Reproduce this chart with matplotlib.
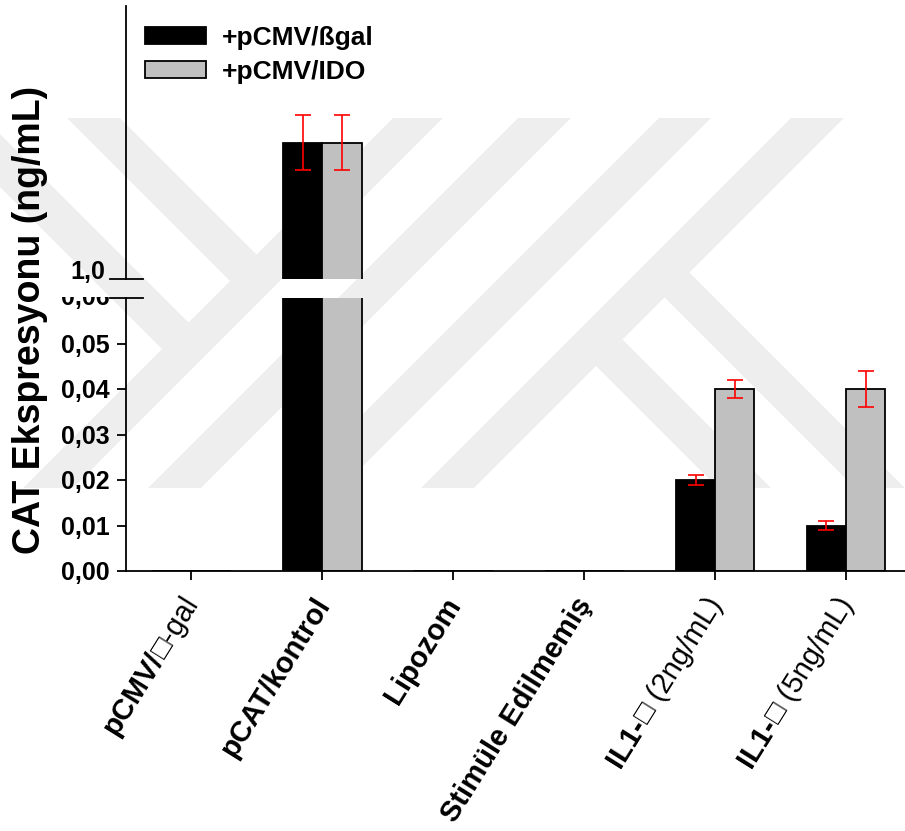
import numpy as np
import matplotlib
matplotlib.use("Agg")
import matplotlib.pyplot as plt
from matplotlib.patches import Polygon
from matplotlib.font_manager import FontProperties
from matplotlib.transforms import Bbox, TransformedBbox, blended_transform_factory

plt.rcParams['font.family'] = ['Liberation Sans', 'DejaVu Sans']

# groups: bold part of the name + plain part
label_bold = ["pCMV/", "pCAT/kontrol", "Lipozom", "Stimüle Edilmemiş", "IL1-", "IL1-"]
label_rest = ["□-gal", "", "", "", "□ (2ng/mL)", "□ (5ng/mL)"]

series_names = ["+pCMV/ßgal", "+pCMV/IDO"]
bgal = [0, 1.5, 0, 0, 0.020, 0.010]
bgal_err = [0, 0.1, 0, 0, 0.001, 0.001]
ido = [0, 1.5, 0, 0, 0.040, 0.040]
ido_err = [0, 0.1, 0, 0, 0.002, 0.004]

low_ticks = [0.00, 0.01, 0.02, 0.03, 0.04, 0.05]

W, H = 905, 831
fig = plt.figure(figsize=(W / 100, H / 100), dpi=100)


def px_rect(x0, y0, x1, y1):
    # pixel box (origin top-left) -> add_axes rect
    return [x0 / W, 1 - y1 / H, (x1 - x0) / W, (y1 - y0) / H]


# faint logo in the background
bg = fig.add_axes([0, 0, 1, 1], zorder=-1)
bg.set_xlim(0, W)
bg.set_ylim(H, 0)
bg.axis('off')
top, bot = 118, 488


def slash(a, b):
    return [(a - top, top), (b - top, top), (b - bot, bot), (a - bot, bot)]


def arm_up(c, d, s):
    return [(c + top, top), (d + top, top), ((s + d) / 2, (s - d) / 2), ((s + c) / 2, (s - c) / 2)]


def arm_down(c, d, s):
    return [((s + d) / 2, (s - d) / 2), (d + bot, bot), (c + bot, bot), ((s + c) / 2, (s - c) / 2)]


shapes = [slash(511, 561), slash(636, 689), slash(777, 829), slash(909, 962),
          arm_up(-51, 2, 511), arm_up(-187, -134, 511),
          arm_down(367, 417, 962), arm_down(230, 283, 962)]
for pts in shapes:
    bg.add_patch(Polygon(pts, closed=True, facecolor='#eeeeee', edgecolor='none'))

ax_lo = fig.add_axes(px_rect(126, 298, 905, 571))
ax_hi = fig.add_axes(px_rect(126, 6, 905, 279))

x = np.arange(len(label_bold))
w = 0.3
lw = 1.3
handles = []
for ax in (ax_lo, ax_hi):
    ax.set_facecolor('none')
    h1 = ax.bar(x - w / 2, bgal, w, color='black', edgecolor='black', linewidth=lw)
    h2 = ax.bar(x + w / 2, ido, w, color='#c0c0c0', edgecolor='black', linewidth=lw)
    handles = [h1, h2]
    for xs, vals, errs in ((x - w / 2, bgal, bgal_err), (x + w / 2, ido, ido_err)):
        vals = np.array(vals)
        errs = np.array(errs)
        m = vals > 0
        ax.errorbar(xs[m], vals[m], yerr=errs[m], fmt='none', ecolor='red',
                    elinewidth=1.2, capsize=6, capthick=1.2, zorder=3)
    ax.set_xlim(-0.5, 5.45)
    for s in ('top', 'right'):
        ax.spines[s].set_visible(False)
    ax.spines['left'].set_linewidth(lw)

ax_lo.set_ylim(0, 0.06)
ax_hi.set_ylim(1.0, 2.0)
ax_hi.spines['bottom'].set_visible(False)
ax_hi.set_xticks([])
ax_hi.set_yticks([])
ax_lo.spines['bottom'].set_linewidth(lw)

ax_lo.set_yticks(low_ticks, labels=[f"{v:.2f}".replace('.', ',') for v in low_ticks],
                 fontsize=18, fontweight='bold')
ax_lo.tick_params(axis='y', direction='out', length=6.5, width=lw, pad=5)
ax_lo.set_xticks(x, labels=[])
ax_lo.tick_params(axis='x', direction='out', length=6.5, width=lw)

# break marks across the y axis
for ax, yv in ((ax_lo, 0.06), (ax_hi, 1.0)):
    tr = blended_transform_factory(fig.transFigure, ax.transData)
    ax.plot([110 / W, 143 / W], [yv, yv], color='black', lw=lw, transform=tr, clip_on=False)

tr_hi = blended_transform_factory(fig.transFigure, ax_hi.transData)
ax_hi.text(105 / W, 1.0, "1,0", transform=tr_hi, ha='right', va='baseline',
           fontsize=18, fontweight='bold')
tr_lo = blended_transform_factory(fig.transFigure, ax_lo.transData)
t06 = ax_lo.text(110 / W, 0.06, "0,06", transform=tr_lo, ha='right', va='center',
                 fontsize=18, fontweight='bold')
t06.set_clip_box(TransformedBbox(Bbox.from_extents(0, 0, 1, 1 - 297 / H), fig.transFigure))
t06.set_clip_on(True)

fig.text(30 / W, 1 - 320 / H, "CAT Ekspresyonu (ng/mL)", rotation=90, ha='center',
         va='center', fontsize=27, fontweight='bold')

leg = ax_lo.legend(handles, series_names, loc='upper left',
                   bbox_to_anchor=(145 / W, 1 - 26 / H), bbox_transform=fig.transFigure,
                   frameon=False, borderpad=0, borderaxespad=0,
                   prop={'weight': 'bold', 'size': 19},
                   handlelength=2.31, handleheight=0.61, handletextpad=0.6,
                   labelspacing=0.38)

# rotated category names, bold part followed by plain part
renderer = fig.canvas.get_renderer()
fam = plt.rcParams['font.family']
fp_n = FontProperties(family=fam, weight='normal', size=21)
ang = 58
ca, sa = np.cos(np.radians(ang)), np.sin(np.radians(ang))
dx, dy = 8, 33
k = 72 / fig.dpi
for i in range(len(x)):
    rest_w = 0
    if label_rest[i]:
        rest_w = renderer.get_text_width_height_descent(label_rest[i], fp_n, ismath=False)[0]
        ax_lo.annotate(label_rest[i], xy=(x[i], 0), xycoords='data',
                       xytext=(dx * k, -dy * k), textcoords='offset points',
                       rotation=ang, rotation_mode='anchor', ha='right', va='baseline',
                       fontsize=21, fontweight='normal', annotation_clip=False)
    ax_lo.annotate(label_bold[i], xy=(x[i], 0), xycoords='data',
                   xytext=((dx - rest_w * ca) * k, (-dy - rest_w * sa) * k),
                   textcoords='offset points',
                   rotation=ang, rotation_mode='anchor', ha='right', va='baseline',
                   fontsize=21, fontweight='bold', annotation_clip=False)

fig.savefig('out.png', dpi=100)
